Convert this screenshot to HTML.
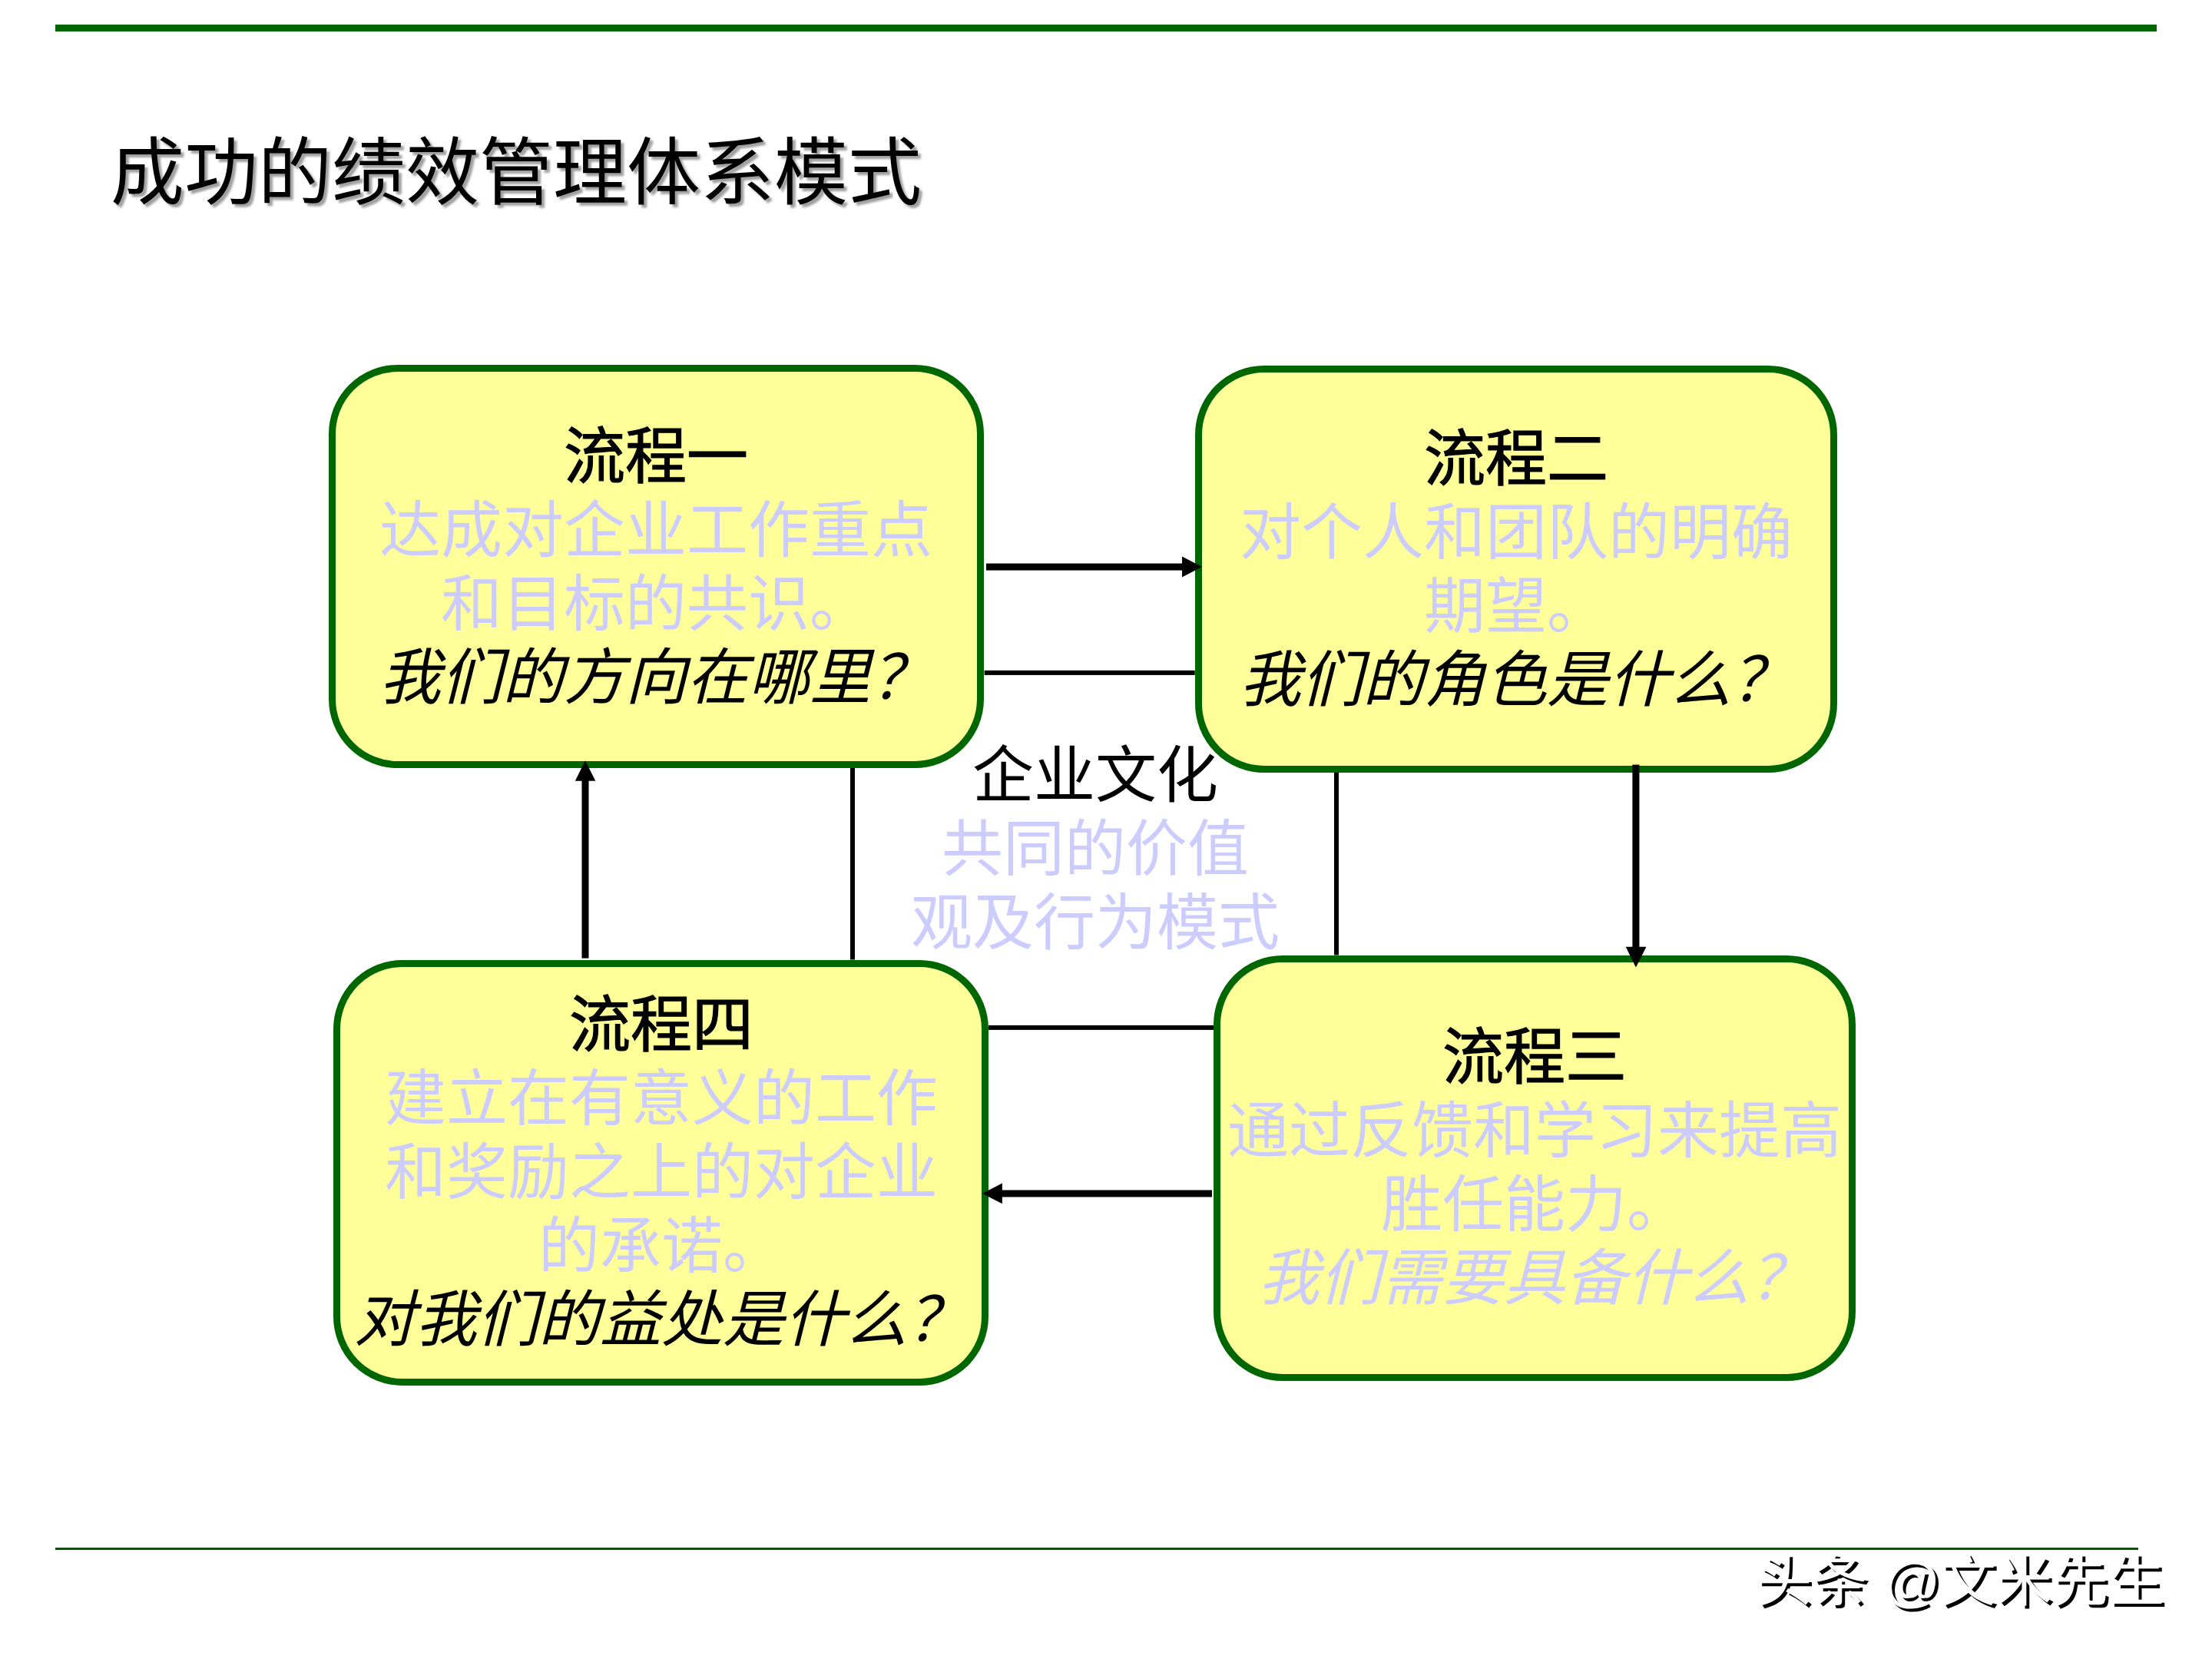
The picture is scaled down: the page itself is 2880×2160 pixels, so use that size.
<!DOCTYPE html>
<html lang="zh-CN">
<head>
<meta charset="utf-8">
<title>成功的绩效管理体系模式</title>
<style>
html,body{margin:0;padding:0;background:#fff;}
body{width:2880px;height:2160px;position:relative;overflow:hidden;font-family:"Liberation Serif",serif;}
.abs{position:absolute;}
.bar{position:absolute;background:#006600;}
.title{position:absolute;left:144px;top:166px;font-size:96px;line-height:120px;white-space:nowrap;color:#000;text-shadow:4px 4px 3px rgba(0,0,0,0.38);}
.box{position:absolute;box-sizing:border-box;border:9px solid #006600;background:#ffff99;border-radius:90px;}
.txt{position:absolute;text-align:center;font-size:80px;line-height:96px;white-space:nowrap;}
.txt div{height:96px;}
.h{color:#000;font-weight:normal;-webkit-text-stroke:1.2px #000;}
.l{color:#ccccff;}
.q{color:#000;font-style:italic;}
.ql{color:#ccccff;font-style:italic;}
svg{position:absolute;left:0;top:0;}
.wm{position:absolute;left:2286px;top:2011px;font-family:"Liberation Sans",sans-serif;font-size:73px;line-height:96px;white-space:nowrap;color:#fff;font-weight:500;text-shadow:4px 4px 0 #000;}
</style>
</head>
<body>
<div class="bar" style="left:72px;top:32px;width:2736px;height:9px;"></div>
<div class="title">成功的绩效管理体系模式</div>

<div class="box" style="left:427.5px;top:475.4px;width:853.8px;height:524.6px;"></div>
<div class="box" style="left:1555.6px;top:475.7px;width:836.8px;height:530.3px;"></div>
<div class="box" style="left:1580px;top:1243.5px;width:836px;height:554.5px;"></div>
<div class="box" style="left:433.8px;top:1249.6px;width:853.5px;height:554.4px;"></div>

<svg width="2880" height="2160" viewBox="0 0 2880 2160">
  <g fill="#000">
    <!-- right arrow B1 -> B2 -->
    <rect x="1284" y="733.6" width="258" height="9"/>
    <polygon points="1539,724.6 1565,738 1539,751.4"/>
    <!-- thin line B1 - B2 -->
    <rect x="1281.6" y="872.9" width="274.1" height="6"/>
    <!-- up arrow B4 -> B1 -->
    <rect x="757.5" y="1014" width="9" height="233.6"/>
    <polygon points="748.8,1016.8 762,990.3 775.3,1016.8"/>
    <!-- thin vertical B1 - B4 -->
    <rect x="1107" y="1000" width="6" height="249.5"/>
    <!-- thin vertical B2 - B3 -->
    <rect x="1737" y="1006" width="6" height="237.5"/>
    <!-- down arrow B2 -> B3 -->
    <rect x="2125.4" y="995.6" width="9" height="240"/>
    <polygon points="2116.7,1232.8 2129.9,1259.5 2143.4,1232.8"/>
    <!-- thin horizontal B4 - B3 -->
    <rect x="1287" y="1334.9" width="293" height="6"/>
    <!-- left arrow B3 -> B4 -->
    <rect x="1302" y="1549.5" width="276" height="9"/>
    <polygon points="1304.9,1540.5 1279,1554 1304.9,1567.3"/>
  </g>
</svg>

<div class="txt" style="left:427.5px;width:853.8px;top:547px;">
  <div class="h">流程一</div>
  <div class="l">达成对企业工作重点</div>
  <div class="l">和目标的共识。</div>
  <div class="q">我们的方向在哪里？</div>
</div>

<div class="txt" style="left:1555.6px;width:836.8px;top:550px;">
  <div class="h">流程二</div>
  <div class="l">对个人和团队的明确</div>
  <div class="l">期望。</div>
  <div class="q">我们的角色是什么？</div>
</div>

<div class="txt" style="left:1580px;width:836px;top:1329px;">
  <div class="h">流程三</div>
  <div class="l">通过反馈和学习来提高</div>
  <div class="l">胜任能力。</div>
  <div class="ql">我们需要具备什么？</div>
</div>

<div class="txt" style="left:433.8px;width:853.5px;top:1287px;">
  <div class="h">流程四</div>
  <div class="l">建立在有意义的工作</div>
  <div class="l">和奖励之上的对企业</div>
  <div class="l">的承诺。</div>
  <div class="q">对我们的益处是什么？</div>
</div>

<div class="txt" style="left:1185.6px;width:480px;top:962px;">
  <div style="color:#000;">企业文化</div>
  <div class="l">共同的价值</div>
  <div class="l">观及行为模式</div>
</div>

<div class="bar" style="left:72px;top:2015px;width:2712px;height:3px;background:#005a00;"></div>
<div class="wm">头条 @文米先生</div>
</body>
</html>
